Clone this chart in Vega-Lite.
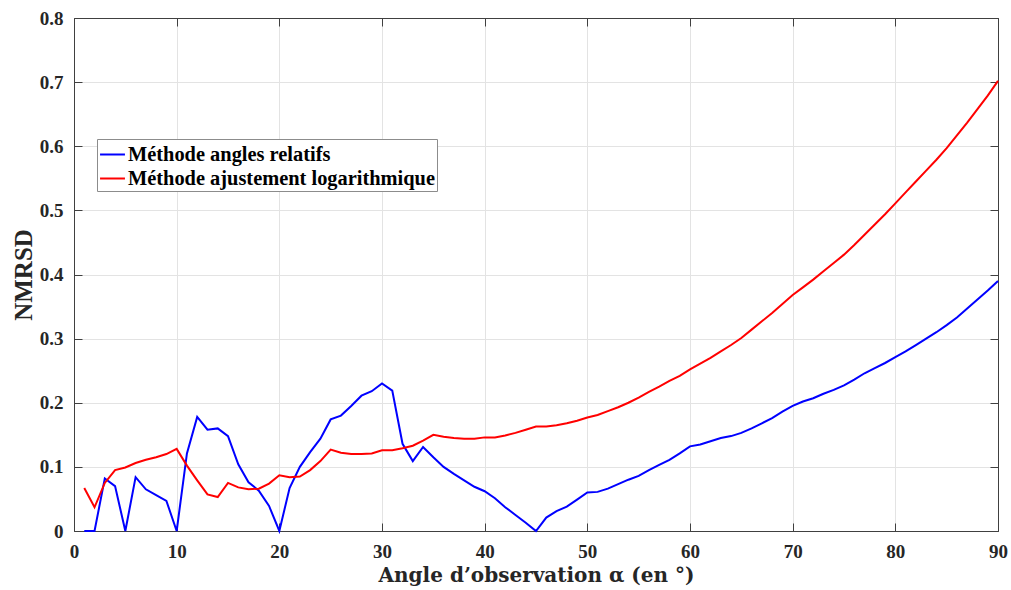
{
  "$schema": "https://vega.github.io/schema/vega-lite/v6.json",
  "width": 924,
  "height": 513,
  "autosize": {"type": "none"},
  "padding": {"left": 74, "top": 18, "right": 13, "bottom": 59},
  "background": "white",
  "config": {
    "view": {"stroke": "#404040", "strokeWidth": 1},
    "font": "Liberation Serif"
  },
  "data": {
    "values": [
      {"a": 1, "rel": 0, "log": 0.067},
      {"a": 2, "rel": 0, "log": 0.037},
      {"a": 3, "rel": 0.082, "log": 0.075},
      {"a": 4, "rel": 0.070, "log": 0.095},
      {"a": 5, "rel": 0, "log": 0.099},
      {"a": 6, "rel": 0.084, "log": 0.106},
      {"a": 7, "rel": 0.065, "log": 0.111},
      {"a": 8, "rel": 0.056, "log": 0.115},
      {"a": 9, "rel": 0.047, "log": 0.120},
      {"a": 10, "rel": 0, "log": 0.128},
      {"a": 11, "rel": 0.121, "log": 0.102},
      {"a": 12, "rel": 0.178, "log": 0.079},
      {"a": 13, "rel": 0.158, "log": 0.057},
      {"a": 14, "rel": 0.160, "log": 0.053},
      {"a": 15, "rel": 0.148, "log": 0.075},
      {"a": 16, "rel": 0.104, "log": 0.068},
      {"a": 17, "rel": 0.076, "log": 0.065},
      {"a": 18, "rel": 0.063, "log": 0.066},
      {"a": 19, "rel": 0.039, "log": 0.074},
      {"a": 20, "rel": 0, "log": 0.087},
      {"a": 21, "rel": 0.067, "log": 0.084},
      {"a": 22, "rel": 0.100, "log": 0.085},
      {"a": 23, "rel": 0.123, "log": 0.095},
      {"a": 24, "rel": 0.144, "log": 0.109},
      {"a": 25, "rel": 0.174, "log": 0.127},
      {"a": 26, "rel": 0.180, "log": 0.122},
      {"a": 27, "rel": 0.195, "log": 0.120},
      {"a": 28, "rel": 0.211, "log": 0.120},
      {"a": 29, "rel": 0.218, "log": 0.121},
      {"a": 30, "rel": 0.230, "log": 0.126},
      {"a": 31, "rel": 0.219, "log": 0.126},
      {"a": 32, "rel": 0.136, "log": 0.129},
      {"a": 33, "rel": 0.109, "log": 0.133},
      {"a": 34, "rel": 0.131, "log": 0.141},
      {"a": 35, "rel": 0.115, "log": 0.150},
      {"a": 36, "rel": 0.100, "log": 0.147},
      {"a": 37, "rel": 0.089, "log": 0.145},
      {"a": 38, "rel": 0.079, "log": 0.144},
      {"a": 39, "rel": 0.069, "log": 0.144},
      {"a": 40, "rel": 0.062, "log": 0.146},
      {"a": 41, "rel": 0.051, "log": 0.146},
      {"a": 42, "rel": 0.037, "log": 0.149},
      {"a": 43, "rel": 0.025, "log": 0.153},
      {"a": 44, "rel": 0.013, "log": 0.158},
      {"a": 45, "rel": 0, "log": 0.163},
      {"a": 46, "rel": 0.021, "log": 0.163},
      {"a": 47, "rel": 0.031, "log": 0.165},
      {"a": 48, "rel": 0.038, "log": 0.168},
      {"a": 49, "rel": 0.049, "log": 0.172},
      {"a": 50, "rel": 0.060, "log": 0.177},
      {"a": 51, "rel": 0.061, "log": 0.181},
      {"a": 52, "rel": 0.066, "log": 0.187},
      {"a": 53, "rel": 0.073, "log": 0.193},
      {"a": 54, "rel": 0.080, "log": 0.200},
      {"a": 55, "rel": 0.086, "log": 0.208},
      {"a": 56, "rel": 0.095, "log": 0.217},
      {"a": 57, "rel": 0.103, "log": 0.225},
      {"a": 58, "rel": 0.111, "log": 0.234},
      {"a": 59, "rel": 0.121, "log": 0.242},
      {"a": 60, "rel": 0.132, "log": 0.252},
      {"a": 61, "rel": 0.135, "log": 0.261},
      {"a": 62, "rel": 0.140, "log": 0.270},
      {"a": 63, "rel": 0.145, "log": 0.280},
      {"a": 64, "rel": 0.148, "log": 0.290},
      {"a": 65, "rel": 0.153, "log": 0.301},
      {"a": 66, "rel": 0.160, "log": 0.314},
      {"a": 67, "rel": 0.168, "log": 0.327},
      {"a": 68, "rel": 0.176, "log": 0.340},
      {"a": 69, "rel": 0.186, "log": 0.354},
      {"a": 70, "rel": 0.195, "log": 0.368},
      {"a": 71, "rel": 0.202, "log": 0.380},
      {"a": 72, "rel": 0.207, "log": 0.392},
      {"a": 73, "rel": 0.214, "log": 0.405},
      {"a": 74, "rel": 0.220, "log": 0.418},
      {"a": 75, "rel": 0.227, "log": 0.431},
      {"a": 76, "rel": 0.236, "log": 0.446},
      {"a": 77, "rel": 0.246, "log": 0.462},
      {"a": 78, "rel": 0.254, "log": 0.478},
      {"a": 79, "rel": 0.262, "log": 0.494},
      {"a": 80, "rel": 0.271, "log": 0.511},
      {"a": 81, "rel": 0.280, "log": 0.528},
      {"a": 82, "rel": 0.290, "log": 0.545},
      {"a": 83, "rel": 0.300, "log": 0.562},
      {"a": 84, "rel": 0.310, "log": 0.579},
      {"a": 85, "rel": 0.321, "log": 0.597},
      {"a": 86, "rel": 0.333, "log": 0.617},
      {"a": 87, "rel": 0.347, "log": 0.637},
      {"a": 88, "rel": 0.361, "log": 0.658},
      {"a": 89, "rel": 0.375, "log": 0.679},
      {"a": 90, "rel": 0.390, "log": 0.702}
    ]
  },
  "transform": [{"fold": ["rel", "log"], "as": ["serie", "nmrsd"]}],
  "layer": [
    {
      "mark": {"type": "line", "strokeWidth": 2},
      "encoding": {
        "x": {
          "field": "a",
          "type": "quantitative",
          "scale": {"domain": [0, 90], "nice": false},
          "axis": {
            "values": [0, 10, 20, 30, 40, 50, 60, 70, 80, 90],
            "title": "Angle d’observation α (en °)",
            "titleFont": "DejaVu Serif",
            "titleFontSize": 20,
            "titleFontWeight": "bold",
            "titleColor": "#262626",
            "titlePadding": 4,
            "labelFont": "Liberation Serif",
            "labelFontSize": 19,
            "labelFontWeight": "bold",
            "labelColor": "#262626",
            "labelPadding": 19,
            "labelFlush": false,
            "tickSize": -8,
            "tickColor": "#404040",
            "domainColor": "#404040",
            "grid": true,
            "gridColor": "#e3e3e3"
          }
        },
        "y": {
          "field": "nmrsd",
          "type": "quantitative",
          "scale": {"domain": [0, 0.8], "nice": false},
          "axis": {
            "values": [0, 0.1, 0.2, 0.3, 0.4, 0.5, 0.6, 0.7, 0.8],
            "format": ".1~f",
            "title": "NMRSD",
            "titleFont": "Liberation Serif",
            "titleFontSize": 25,
            "titleFontWeight": "bold",
            "titleColor": "#262626",
            "titlePadding": 3,
            "labelFont": "Liberation Serif",
            "labelFontSize": 19,
            "labelFontWeight": "bold",
            "labelColor": "#262626",
            "labelPadding": 19,
            "labelFlush": false,
            "tickSize": -8,
            "tickColor": "#404040",
            "domainColor": "#404040",
            "grid": true,
            "gridColor": "#e3e3e3"
          }
        },
        "color": {
          "field": "serie",
          "type": "nominal",
          "scale": {"domain": ["rel", "log"], "range": ["#0000ff", "#ff0000"]},
          "legend": {
            "orient": "none",
            "legendX": 23,
            "legendY": 121,
            "direction": "vertical",
            "title": null,
            "labelExpr": "datum.label == 'rel' ? 'Méthode angles relatifs' : 'Méthode ajustement logarithmique'",
            "fillColor": "white",
            "strokeColor": "#8c8c8c",
            "padding": 2,
            "symbolType": "stroke",
            "symbolSize": 620,
            "symbolStrokeWidth": 2,
            "labelFont": "Liberation Serif",
            "labelFontSize": 20.4,
            "labelFontWeight": "bold",
            "labelColor": "#000000",
            "labelOffset": 2,
            "rowPadding": -2,
            "labelLimit": 400
          }
        }
      }
    },
    {
      "mark": {"type": "line", "opacity": 0},
      "encoding": {
        "x": {
          "field": "a",
          "type": "quantitative",
          "axis": {
            "orient": "top",
            "values": [0, 10, 20, 30, 40, 50, 60, 70, 80, 90],
            "labels": false,
            "title": null,
            "grid": false,
            "tickSize": -8,
            "tickColor": "#404040",
            "domainColor": "#404040"
          }
        },
        "y": {
          "field": "nmrsd",
          "type": "quantitative",
          "axis": {
            "orient": "right",
            "values": [0, 0.1, 0.2, 0.3, 0.4, 0.5, 0.6, 0.7, 0.8],
            "labels": false,
            "title": null,
            "grid": false,
            "tickSize": -8,
            "tickColor": "#404040",
            "domainColor": "#404040"
          }
        },
        "detail": {"field": "serie"}
      }
    }
  ],
  "resolve": {"axis": {"x": "independent", "y": "independent"}}
}
